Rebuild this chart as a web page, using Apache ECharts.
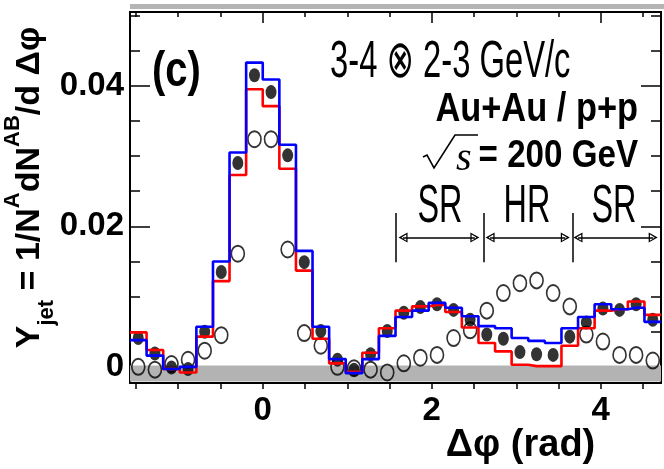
<!DOCTYPE html>
<html>
<head>
<meta charset="utf-8">
<script src="https://cdn.jsdelivr.net/npm/echarts@6/dist/echarts.min.js"></script>
<style>
html, body { margin: 0; padding: 0; background: #fff; }
#main { width: 664px; height: 469px; }
</style>
</head>
<body>
<div id="main"></div>
<script>
// bin centres (rad), 32 bins of pi/16
const dphi = [-1.473, -1.276, -1.080, -0.884, -0.687, -0.491, -0.295, -0.098,
  0.098, 0.295, 0.491, 0.687, 0.884, 1.080, 1.276, 1.473,
  1.669, 1.865, 2.062, 2.258, 2.454, 2.651, 2.847, 3.043,
  3.240, 3.436, 3.633, 3.829, 4.025, 4.222, 4.418, 4.615];
// Au+Au (filled)
const auau = [0.0041, 0.0019, -0.0001, -0.0003, 0.0050, 0.0135, 0.0290, 0.0415,
  0.0391, 0.0301, 0.0149, 0.0051, 0.0010, -0.0004, 0.0018, 0.0051,
  0.0077, 0.0085, 0.0089, 0.0081, 0.0067, 0.0046, 0.0040, 0.0021,
  0.0018, 0.0017, 0.0043, 0.0063, 0.0083, 0.0081, 0.0089, 0.0067];
// p+p (open)
const pp = [0.0000, -0.0004, 0.0004, 0.0010, 0.0023, 0.0045, 0.0161, 0.0324,
  0.0324, 0.0167, 0.0048, 0.0030, 0.0000, -0.0002, -0.0004, -0.0008,
  0.0005, 0.0013, 0.0017, 0.0041, 0.0052, 0.0080, 0.0105, 0.0119,
  0.0123, 0.0105, 0.0086, 0.0046, 0.0036, 0.0017, 0.0017, 0.0009];
// systematic bands (histograms)
const sysRed = [0.0049, 0.0024, -0.0003, -0.0008, 0.0043, 0.0122, 0.0273, 0.0395,
  0.0371, 0.0282, 0.0137, 0.0040, 0.0005, -0.0007, 0.0020, 0.0055,
  0.0080, 0.0086, 0.0088, 0.0078, 0.0056, 0.0034, 0.0022, 0.0003,
  0.0001, 0.0001, 0.0030, 0.0055, 0.0080, 0.0082, 0.0093, 0.0074];
const sysBlue = [0.0038, 0.0016, -0.0003, 0.0000, 0.0057, 0.0150, 0.0305, 0.0433,
  0.0409, 0.0316, 0.0165, 0.0057, 0.0011, -0.0009, 0.0011, 0.0044,
  0.0071, 0.0080, 0.0091, 0.0084, 0.0072, 0.0058, 0.0055, 0.0041,
  0.0037, 0.0034, 0.0055, 0.0071, 0.0089, 0.0082, 0.0084, 0.0064];

const xRange = [-1.5708, 4.7124];
const yRange = [-0.0023, 0.0505];
const xTickLabels = [0, 2, 4];
const xMinorTicks = [-1.5, -1, -0.5, 0, 0.5, 1, 1.5, 2, 2.5, 3, 3.5, 4, 4.5];
const yTickLabels = [0, 0.02, 0.04];
const yMinorTicks = [0, 0.005, 0.01, 0.015, 0.02, 0.025, 0.03, 0.035, 0.04, 0.045, 0.05];
const zeroBand = [-0.0021, 0.0002];
// SR / HR / SR regions
const regionEdges = [1.571, 2.618, 3.665];
const regionArrows = [[1.66, 2.51], [2.69, 3.58], [3.73, 4.62]];
const regionNames = ['SR', 'HR', 'SR'];
const edgeY = [0.0149, 0.0219];
const arrowY = 0.0184;

const chart = echarts.init(document.getElementById('main'));

function steps(vals) {
  const pts = dphi.map((x, i) => [x, vals[i]]);
  return [[xRange[0], vals[0]]].concat(pts, [[xRange[1], vals[vals.length - 1]]]);
}

const tickFont = "'Liberation Sans', Arial, sans-serif";
const hollowArrow = 'path://M5 0L10 10L0 10Z M5 3.2L1.9 8.6L8.1 8.6Z';

function xAx(extra) {
  return Object.assign({
    type: 'value', min: xRange[0], max: xRange[1],
    splitLine: { show: false },
    axisLine: { show: true, onZero: false, lineStyle: { color: '#000', width: 2 } },
    axisLabel: { show: false },
    axisTick: { show: false }
  }, extra);
}
function yAx(extra) {
  return Object.assign({
    type: 'value', min: yRange[0], max: yRange[1],
    splitLine: { show: false },
    axisLine: { show: true, onZero: false, lineStyle: { color: '#000', width: 2 } },
    axisLabel: { show: false },
    axisTick: { show: false }
  }, extra);
}

const option = {
  animation: false,
  backgroundColor: '#fff',
  grid: { left: 130, right: 3, top: 12, bottom: 86, outerBoundsMode: 'none' },
  xAxis: [
    xAx({
      position: 'bottom',
      name: 'Δφ (rad)',
      nameLocation: 'middle',
      nameGap: 44,
      nameMoveOverlap: false,
      nameTextStyle: { fontFamily: 'Liberation Sans', fontWeight: 'bold', fontSize: 38, color: '#000', padding: [0, 0, 0, 250] },
      axisLabel: { show: true, customValues: xTickLabels, margin: 11, color: '#000', fontFamily: tickFont, fontWeight: 'bold', fontSize: 33 },
      axisTick: { show: true, customValues: xMinorTicks, inside: false, length: 6, lineStyle: { color: '#000', width: 1.5 } }
    }),
    xAx({
      position: 'top',
      axisTick: { show: true, customValues: xMinorTicks, inside: true, length: 5, lineStyle: { color: '#000', width: 1.5 } }
    }),
    xAx({
      position: 'top',
      axisTick: { show: true, customValues: xTickLabels, inside: true, length: 11, lineStyle: { color: '#000', width: 1.5 } }
    })
  ],
  yAxis: [
    yAx({
      position: 'left',
      name: '{m|Y}{sub|jet}{m| = 1/N}{sup|A}{m|dN}{sup|AB}{m|/d Δφ}',
      nameLocation: 'middle',
      nameRotate: 90,
      nameGap: 72,
      nameMoveOverlap: false,
      nameTextStyle: {
        color: '#000', padding: [0, 0, 0, 20],
        rich: {
          m: { fontFamily: 'Liberation Sans', fontWeight: 'bold', fontSize: 34, lineHeight: 56, verticalAlign: 'middle', color: '#000' },
          sub: { fontFamily: 'Liberation Sans', fontWeight: 'bold', fontSize: 22, lineHeight: 22, verticalAlign: 'bottom', color: '#000' },
          sup: { fontFamily: 'Liberation Sans', fontWeight: 'bold', fontSize: 22, lineHeight: 22, verticalAlign: 'top', color: '#000' }
        }
      },
      axisLabel: { show: true, customValues: yTickLabels, margin: 6, color: '#000', fontFamily: tickFont, fontWeight: 'bold', fontSize: 33 },
      axisTick: { show: true, customValues: yTickLabels, inside: true, length: 20, lineStyle: { color: '#000', width: 1.5 } }
    }),
    yAx({
      position: 'left',
      axisTick: { show: true, customValues: yMinorTicks, inside: true, length: 10, lineStyle: { color: '#000', width: 1.5 } }
    }),
    yAx({
      position: 'right',
      axisTick: { show: true, customValues: yTickLabels, inside: true, length: 20, lineStyle: { color: '#000', width: 1.5 } }
    }),
    yAx({
      position: 'right',
      axisTick: { show: true, customValues: yMinorTicks, inside: true, length: 10, lineStyle: { color: '#000', width: 1.5 } }
    })
  ],
  series: [
    {
      name: 'band', type: 'line', data: [], z: 1, silent: true,
      markArea: {
        silent: true,
        itemStyle: { color: '#b3b3b3' },
        data: [[{ coord: [xRange[0], zeroBand[0]] }, { coord: [xRange[1], zeroBand[1]] }]]
      }
    },
    {
      name: 'p+p', type: 'scatter', z: 2,
      data: dphi.map((x, i) => [x, pp[i]]),
      symbol: 'circle', symbolSize: [13, 16],
      itemStyle: { color: 'rgba(0,0,0,0)', borderColor: '#000', borderWidth: 1.8 }
    },
    {
      name: 'Au+Au', type: 'scatter', z: 3,
      data: dphi.map((x, i) => [x, auau[i]]),
      symbol: 'circle', symbolSize: [11, 14],
      itemStyle: { color: '#000' }
    },
    {
      name: 'sysRed', type: 'line', z: 4, step: 'middle', showSymbol: false,
      data: steps(sysRed),
      lineStyle: { color: '#ff0000', width: 2.6 }
    },
    {
      name: 'sysBlue', type: 'line', z: 5, step: 'middle', showSymbol: false,
      data: steps(sysBlue),
      lineStyle: { color: '#0000ff', width: 2.6 }
    },
    {
      name: 'edges', type: 'line', data: [], z: 6, silent: true,
      markLine: {
        silent: true, symbol: 'none', label: { show: false },
        lineStyle: { color: '#000', width: 1.5, type: 'solid' },
        data: regionEdges.map(x => [{ coord: [x, edgeY[0]] }, { coord: [x, edgeY[1]] }])
      }
    },
    {
      name: 'arrows', type: 'line', data: [], z: 6, silent: true,
      markLine: {
        silent: true, symbol: [hollowArrow, hollowArrow], symbolSize: [10, 9],
        label: { show: false },
        lineStyle: { color: '#000', width: 1.5, type: 'solid' },
        data: regionArrows.map(r => [{ coord: [r[0], arrowY] }, { coord: [r[1], arrowY] }])
      }
    }
  ],
  graphic: [
    { type: 'rect', silent: true, shape: { x: 130, y: 4, width: 534, height: 5 }, style: { fill: '#b4b4b4' } },
    { type: 'text', x: 152, y: 72, scaleX: 0.8,
      style: { text: '(c)', font: 'bold 50px "Liberation Sans", Arial', fill: '#000', textAlign: 'left', textVerticalAlign: 'middle', align: 'left', verticalAlign: 'middle' } },
    { type: 'text', x: 330, y: 63, scaleX: 0.63,
      style: { text: '3-4 ⊗ 2-3 GeV/c', font: '52px "Liberation Sans", "DejaVu Sans", Arial', fill: '#000', textAlign: 'left', textVerticalAlign: 'middle', align: 'left', verticalAlign: 'middle' } },
    { type: 'text', x: 638, y: 110, scaleX: 0.86,
      style: { text: 'Au+Au / p+p', font: 'bold 40px "Liberation Sans", Arial', fill: '#000', textAlign: 'right', textVerticalAlign: 'middle', align: 'right', verticalAlign: 'middle' } },
    { type: 'text', x: 638, y: 156, scaleX: 0.85,
      style: { text: '= 200 GeV', font: 'bold 39px "Liberation Sans", Arial', fill: '#000', textAlign: 'right', textVerticalAlign: 'middle', align: 'right', verticalAlign: 'middle' } },
    { type: 'text', x: 456, y: 159,
      style: { text: 's', font: 'italic 40px "Liberation Serif", serif', fill: '#000', textAlign: 'left', textVerticalAlign: 'middle', align: 'left', verticalAlign: 'middle' } },
    { type: 'polyline', silent: true, shape: { points: [[423, 157], [427, 155], [434, 168], [455, 135], [478, 135]] }, style: { stroke: '#000', lineWidth: 1.6, fill: null } },
    ...regionNames.map((t, i) => ({
      type: 'text', x: [440, 527, 614][i], y: 207, scaleX: 0.6,
      style: { text: t, font: '54px "Liberation Sans", Arial', fill: '#000', textAlign: 'center', textVerticalAlign: 'middle', align: 'center', verticalAlign: 'middle' }
    }))
  ]
};

chart.setOption(option);
window.onresize = function () {
  chart.resize();
};
</script>
</body>
</html>
